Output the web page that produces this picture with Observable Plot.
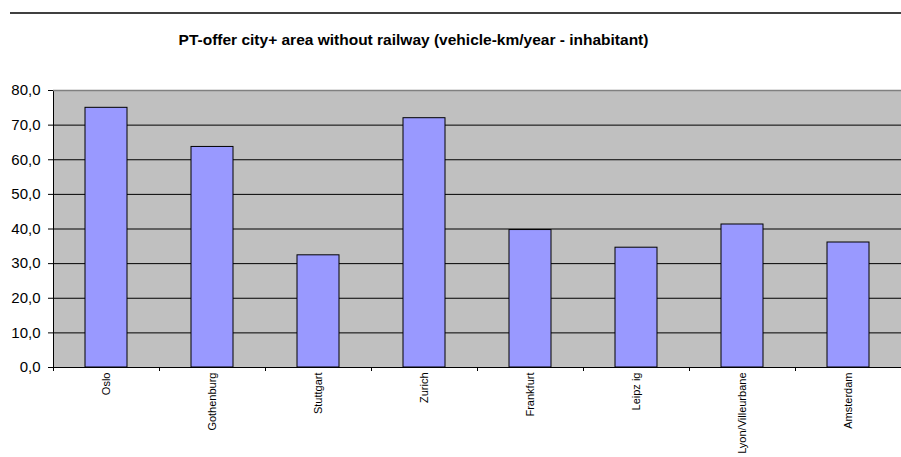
<!DOCTYPE html>
<html>
<head>
<meta charset="utf-8">
<script src="https://cdn.jsdelivr.net/npm/d3@7"></script>
<script src="https://cdn.jsdelivr.net/npm/@observablehq/plot@0.6"></script>
<style>
  body { margin: 0; background: #fff; }
  #wrap { position: relative; width: 901px; height: 457px; overflow: hidden; font-family: Arial, "Liberation Sans", sans-serif; }
  #topline { position: absolute; left: 10px; right: 0; top: 12px; height: 2px; background: #404040; }
  #title { position: absolute; left: 0; width: 827px; top: 31px; text-align: center; font-weight: bold; font-size: 15.5px; color: #000; }
  #chart { position: absolute; left: 0; top: 0; }
</style>
</head>
<body>
<div id="wrap">
  <div id="topline"></div>
  <div id="title">PT-offer city+ area without railway (vehicle-km/year - inhabitant)</div>
  <div id="chart"></div>
</div>
<script>
const cities = ["Oslo", "Gothenburg", "Stuttgart", "Zurich", "Frankfurt", "Leipz ig", "Lyon/Villeurbane", "Amsterdam"];
const values = [75.0, 63.7, 32.4, 72.0, 39.7, 34.6, 41.3, 36.1];
const yTicks = [0, 10, 20, 30, 40, 50, 60, 70, 80];
const gridLines = [10, 20, 30, 40, 50, 60, 70];

const data = cities.map((c, i) => ({city: c, value: values[i]}));

const W = 901, H = 457, ML = 53, MR = 0;
const halfStep = (W - ML - MR) / cities.length / 2;

const chart = Plot.plot({
  width: W,
  height: H,
  marginTop: 90,
  marginBottom: 90,
  marginLeft: ML,
  marginRight: MR,
  style: {fontFamily: "Arial, 'Liberation Sans', sans-serif", background: "transparent", color: "#000"},
  x: {domain: cities, paddingInner: 0.6, paddingOuter: 0.3, label: null},
  y: {domain: [0, 80], label: null},
  marks: [
    Plot.frame({fill: "#c0c0c0", stroke: "#000"}),
    Plot.ruleY(gridLines, {stroke: "#000", strokeWidth: 1}),
    Plot.ruleY([80], {stroke: "#808080", strokeWidth: 1.5}),
    Plot.barY(data, {x: "city", y: "value", fill: "#9999ff", stroke: "#000", strokeWidth: 1}),
    Plot.ruleY([0], {stroke: "#000"}),
    Plot.axisY({ticks: yTicks, tickSize: 5, tickPadding: 8, fontSize: 15, label: null,
      tickFormat: d => d.toFixed(1).replace(".", ",")}),
    Plot.axisX({tickSize: 4, tickFormat: () => "", dx: -halfStep, label: null}),
    Plot.axisX({tickSize: 0, tickPadding: 5, tickRotate: -90, fontSize: 11, label: null})
  ]
});
document.getElementById("chart").appendChild(chart);
</script>
</body>
</html>
